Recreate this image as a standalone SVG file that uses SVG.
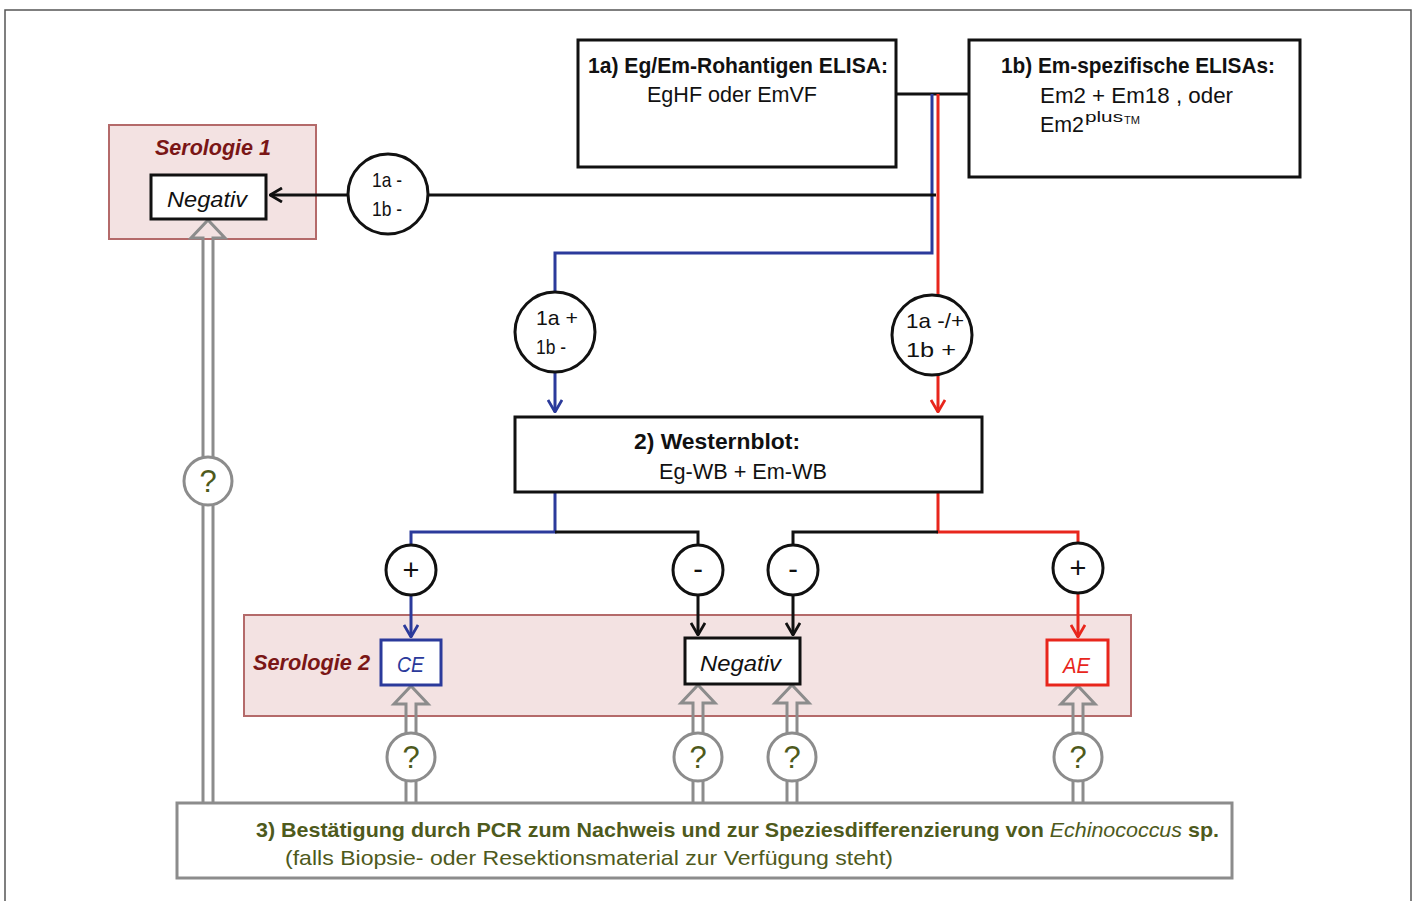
<svg xmlns="http://www.w3.org/2000/svg" width="1415" height="901" viewBox="0 0 1415 901">
<defs>
<style>
text{font-family:"Liberation Sans",Arial,sans-serif;font-size:22px;fill:#111}
.b{font-weight:bold}
.i{font-style:italic}
.ser{font-weight:bold;font-style:italic;fill:#7a1616}
.g{fill:#4e5a1c}
.pcr{font-size:21px}
.box{fill:#fff;stroke:#111;stroke-width:3}
.zone{fill:#f3e2e2;stroke:#b46a6a;stroke-width:2}
.cir{fill:#fff;stroke:#111;stroke-width:3}
.qc{fill:#fff;stroke:#8c8c8c;stroke-width:3}
.k{stroke:#111;stroke-width:3;fill:none}
.bl{stroke:#2b3a9b;stroke-width:3;fill:none}
.rd{stroke:#e8261c;stroke-width:3;fill:none}
.dbl{stroke:#8c8c8c;stroke-width:3;fill:none}
.q{font-size:31px;fill:#4e5a1c;text-anchor:middle}
.pm{font-size:29px;text-anchor:middle}
.cl{font-size:21px}
</style>
<marker id="ak" viewBox="0 0 14 16" refX="13" refY="8" markerWidth="14" markerHeight="16" markerUnits="userSpaceOnUse" orient="auto"><path d="M1,1 L13,8 L1,15" fill="none" stroke="#111" stroke-width="2.8"/></marker>
<marker id="ab" viewBox="0 0 14 16" refX="13" refY="8" markerWidth="14" markerHeight="16" markerUnits="userSpaceOnUse" orient="auto"><path d="M1,1 L13,8 L1,15" fill="none" stroke="#2b3a9b" stroke-width="2.8"/></marker>
<marker id="ar" viewBox="0 0 14 16" refX="13" refY="8" markerWidth="14" markerHeight="16" markerUnits="userSpaceOnUse" orient="auto"><path d="M1,1 L13,8 L1,15" fill="none" stroke="#e8261c" stroke-width="2.8"/></marker>
</defs>
<rect width="1415" height="901" fill="#fff"/>
<path d="M5,905 V10 H1411 V905" fill="none" stroke="#555" stroke-width="1.5"/>

<g id="serologie1">
<rect class="zone" x="109" y="125" width="207" height="114"/>
<text class="ser" x="155" y="155" textLength="116" lengthAdjust="spacingAndGlyphs">Serologie 1</text>
</g>
<g id="serologie2">
<rect class="zone" x="244" y="615" width="887" height="101"/>
<text class="ser" x="253" y="670" textLength="117" lengthAdjust="spacingAndGlyphs">Serologie 2</text>
</g>

<g id="connectors">
<path class="k" d="M896,94 H969"/>
<path class="bl" d="M932,94 V253 H555 V412" marker-end="url(#ab)"/>
<path class="rd" d="M938,94 V412" marker-end="url(#ar)"/>
<path class="k" d="M936,195 H270" marker-end="url(#ak)"/>
<path class="bl" d="M555,492 V532 H411 V637" marker-end="url(#ab)"/>
<path class="k" d="M555,532 H698 V635" marker-end="url(#ak)"/>
<path class="rd" d="M938,492 V532 H1078 V637" marker-end="url(#ar)"/>
<path class="k" d="M938,532 H793 V635" marker-end="url(#ak)"/>
<path class="dbl" d="M203,803 V238 H191 L208,220 L225,238 H213 V803"/>
<path class="dbl" d="M406,803 V704 H394 L411,686 L428,704 H416 V803"/>
<path class="dbl" d="M693,803 V703 H681 L698,685 L715,703 H703 V803"/>
<path class="dbl" d="M787,803 V703 H775 L792,685 L809,703 H797 V803"/>
<path class="dbl" d="M1073,803 V704 H1061 L1078,686 L1095,704 H1083 V803"/>
</g>

<g id="box1a">
<rect class="box" x="578" y="40" width="318" height="127"/>
<text class="b" x="588" y="73" textLength="300" lengthAdjust="spacingAndGlyphs">1a) Eg/Em-Rohantigen ELISA:</text>
<text x="647" y="102" textLength="170" lengthAdjust="spacingAndGlyphs">EgHF oder EmVF</text>
</g>
<g id="box1b">
<rect class="box" x="969" y="40" width="331" height="137"/>
<text class="b" x="1001" y="73" textLength="274" lengthAdjust="spacingAndGlyphs">1b) Em-spezifische ELISAs:</text>
<text x="1040" y="103" textLength="193" lengthAdjust="spacingAndGlyphs">Em2 + Em18 , oder</text>
<text x="1040" y="132" textLength="44" lengthAdjust="spacingAndGlyphs">Em2</text>
<text x="1085" y="122" style="font-size:15px" textLength="38" lengthAdjust="spacingAndGlyphs">plus</text>
<text x="1124" y="124" style="font-size:10px" textLength="16" lengthAdjust="spacingAndGlyphs">TM</text>
</g>
<g id="negativ1">
<rect class="box" x="151" y="175" width="115" height="44"/>
<text class="i" x="167" y="207" textLength="80" lengthAdjust="spacingAndGlyphs">Negativ</text>
</g>
<g id="c1">
<circle class="cir" cx="388" cy="194" r="40"/>
<text class="cl" x="372" y="187" textLength="30" lengthAdjust="spacingAndGlyphs">1a -</text>
<text class="cl" x="372" y="216" textLength="30" lengthAdjust="spacingAndGlyphs">1b -</text>
</g>
<g id="c2">
<circle class="cir" cx="555" cy="332" r="40"/>
<text class="cl" x="536" y="325" textLength="42" lengthAdjust="spacingAndGlyphs">1a +</text>
<text class="cl" x="536" y="354" textLength="30" lengthAdjust="spacingAndGlyphs">1b -</text>
</g>
<g id="c3">
<circle class="cir" cx="932" cy="335" r="40"/>
<text class="cl" x="906" y="328" textLength="58" lengthAdjust="spacingAndGlyphs">1a -/+</text>
<text class="cl" x="906" y="357" textLength="50" lengthAdjust="spacingAndGlyphs">1b  +</text>
</g>
<g id="westernblot">
<rect class="box" x="515" y="417" width="467" height="75"/>
<text class="b" x="634" y="449" textLength="166" lengthAdjust="spacingAndGlyphs">2) Westernblot:</text>
<text x="659" y="479" textLength="168" lengthAdjust="spacingAndGlyphs">Eg-WB + Em-WB</text>
</g>
<g id="p1"><circle class="cir" cx="411" cy="570" r="25"/><text class="pm" x="411" y="580">+</text></g>
<g id="m1"><circle class="cir" cx="698" cy="570" r="25"/><text class="pm" x="698" y="579">-</text></g>
<g id="m2"><circle class="cir" cx="793" cy="570" r="25"/><text class="pm" x="793" y="579">-</text></g>
<g id="p2"><circle class="cir" cx="1078" cy="568" r="25"/><text class="pm" x="1078" y="578">+</text></g>
<g id="ce">
<rect x="381" y="640" width="60" height="45" fill="#fff" stroke="#2b3a9b" stroke-width="3"/>
<text class="i" x="397" y="672" style="fill:#2b3a9b" textLength="27" lengthAdjust="spacingAndGlyphs">CE</text>
</g>
<g id="negativ2">
<rect class="box" x="685" y="638" width="115" height="46"/>
<text class="i" x="700" y="671" textLength="81" lengthAdjust="spacingAndGlyphs">Negativ</text>
</g>
<g id="ae">
<rect x="1047" y="640" width="61" height="45" fill="#fff" stroke="#e8261c" stroke-width="3"/>
<text class="i" x="1063" y="673" style="fill:#e8261c" textLength="27" lengthAdjust="spacingAndGlyphs">AE</text>
</g>
<g id="q0"><circle class="qc" cx="208" cy="481" r="24"/><text class="q" x="208" y="492">?</text></g>
<g id="q1"><circle class="qc" cx="411" cy="757" r="24"/><text class="q" x="411" y="768">?</text></g>
<g id="q2"><circle class="qc" cx="698" cy="757" r="24"/><text class="q" x="698" y="768">?</text></g>
<g id="q3"><circle class="qc" cx="792" cy="757" r="24"/><text class="q" x="792" y="768">?</text></g>
<g id="q4"><circle class="qc" cx="1078" cy="757" r="24"/><text class="q" x="1078" y="768">?</text></g>
<g id="pcr">
<rect x="177" y="803" width="1055" height="75" fill="#fff" stroke="#8c8c8c" stroke-width="3"/>
<text class="b g pcr" x="256" y="837" textLength="963" lengthAdjust="spacingAndGlyphs">3) Bestätigung durch PCR zum Nachweis und zur Speziesdifferenzierung von <tspan class="i" style="font-weight:normal">Echinococcus</tspan> sp.</text>
<text class="g pcr" x="285" y="865" textLength="608" lengthAdjust="spacingAndGlyphs">(falls Biopsie- oder Resektionsmaterial zur Verfügung steht)</text>
</g>
</svg>
